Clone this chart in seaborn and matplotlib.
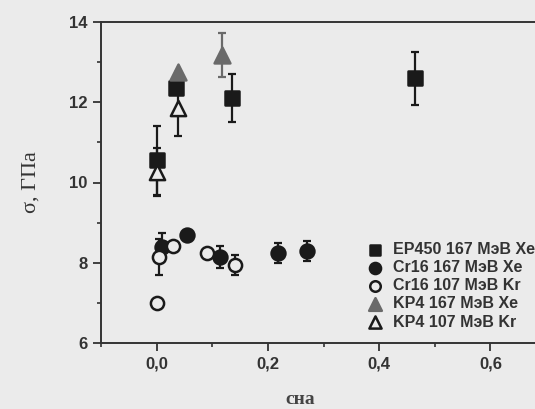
import matplotlib
matplotlib.use("Agg")
import matplotlib.pyplot as plt
from matplotlib.ticker import FuncFormatter, MultipleLocator
import seaborn as sns

# EP450 167 MeV Xe (filled squares)
ep_x = [0.0, 0.035, 0.136, 0.465]
ep_y = [10.55, 12.35, 12.1, 12.6]
ep_err = [0.85, 0.0, 0.6, 0.66]

# Cr16 167 MeV Xe (filled circles)
cr_xe_x = [0.01, 0.054, 0.113, 0.219, 0.27]
cr_xe_y = [8.39, 8.69, 8.14, 8.24, 8.29]
cr_xe_err = [0.35, 0.0, 0.27, 0.25, 0.25]

# Cr16 107 MeV Kr (open circles)
cr_kr_x = [0.0, 0.005, 0.029, 0.09, 0.14]
cr_kr_y = [7.0, 8.14, 8.42, 8.24, 7.95]
cr_kr_err = [0.0, 0.45, 0.0, 0.0, 0.25]

# KP4 167 MeV Xe (filled triangles)
kp_xe_x = [0.038, 0.117]
kp_xe_y = [12.76, 13.18]
kp_xe_err = [0.0, 0.55]

# KP4 107 MeV Kr (open triangles)
kp_kr_x = [0.0, 0.038]
kp_kr_y = [10.26, 11.86]
kp_kr_err = [0.6, 0.7]

labels = ["EP450 167 МэВ Xe", "Cr16 167 МэВ Xe", "Cr16 107 МэВ Kr",
          "KP4 167 МэВ Xe", "KP4 107 МэВ Kr"]

bg = "#ebebeb"
sns.set_style("ticks")
plt.rcParams["font.family"] = ["Liberation Sans", "DejaVu Sans"]

fig = plt.figure(figsize=(5.35, 4.09), dpi=100, facecolor=bg)
ax = fig.add_axes([101 / 535, 1 - 343 / 409, 434 / 535, 321 / 409])
ax.set_facecolor(bg)

series = [
    (ep_x, ep_y, ep_err, "s", "#1a1a1a", False, 90),
    (cr_xe_x, cr_xe_y, cr_xe_err, "o", "#1a1a1a", False, 100),
    (cr_kr_x, cr_kr_y, cr_kr_err, "o", "#1a1a1a", True, 90),
    (kp_xe_x, kp_xe_y, kp_xe_err, "^", "#6a6a6a", False, 130),
    (kp_kr_x, kp_kr_y, kp_kr_err, "^", "#1a1a1a", True, 120),
]

for (xs, ys, errs, m, col, hollow, size), lab in zip(series, labels):
    ax.errorbar(xs, ys, yerr=errs, fmt="none", ecolor=col, elinewidth=1.6,
                capsize=3, capthick=1.6, zorder=2)
    sns.scatterplot(x=xs, y=ys, marker=m, color=col, s=size, ax=ax,
                    edgecolor=col, linewidth=1.8, label=lab, zorder=3)
    if hollow:
        ax.collections[-1].set_facecolor(bg)

ax.set_xlim(-0.1, 0.68)
ax.set_ylim(6, 14)
ax.xaxis.set_major_locator(MultipleLocator(0.2))
ax.xaxis.set_minor_locator(MultipleLocator(0.1))
ax.yaxis.set_major_locator(MultipleLocator(2))
ax.yaxis.set_minor_locator(MultipleLocator(1))
ax.xaxis.set_major_formatter(FuncFormatter(lambda v, p: f"{v:.1f}".replace(".", ",")))
ax.yaxis.set_major_formatter(FuncFormatter(lambda v, p: f"{v:.0f}"))
ax.tick_params(which="major", length=6, width=1.3, labelsize=12, colors="#333333")
ax.tick_params(which="minor", length=3, width=1.2, colors="#333333")
for t in ax.get_xticklabels() + ax.get_yticklabels():
    t.set_fontweight("bold")

for side in ["left", "bottom", "top"]:
    ax.spines[side].set_linewidth(1.4)
    ax.spines[side].set_color("#333333")
ax.spines["right"].set_visible(False)

ax.set_ylabel("σ, ГПа", family=["Liberation Serif", "DejaVu Serif"],
              fontsize=16, color="#333333")
ax.yaxis.set_label_coords(-0.14, 0.5)
ax.set_xlabel("сна", family=["Liberation Serif", "DejaVu Serif"],
              fontsize=14, fontweight="bold", color="#444444")
ax.xaxis.set_label_coords(0.46, -0.15)

leg = ax.legend(loc="upper left", bbox_to_anchor=(0.595, 0.335), frameon=False,
                prop={"size": 11.5, "weight": "bold"}, handletextpad=0.5,
                labelspacing=0.2, borderaxespad=0, handlelength=1.2,
                markerscale=0.8)
for t in leg.get_texts():
    t.set_color("#333333")

fig.savefig("out.png", dpi=100, facecolor=bg)
